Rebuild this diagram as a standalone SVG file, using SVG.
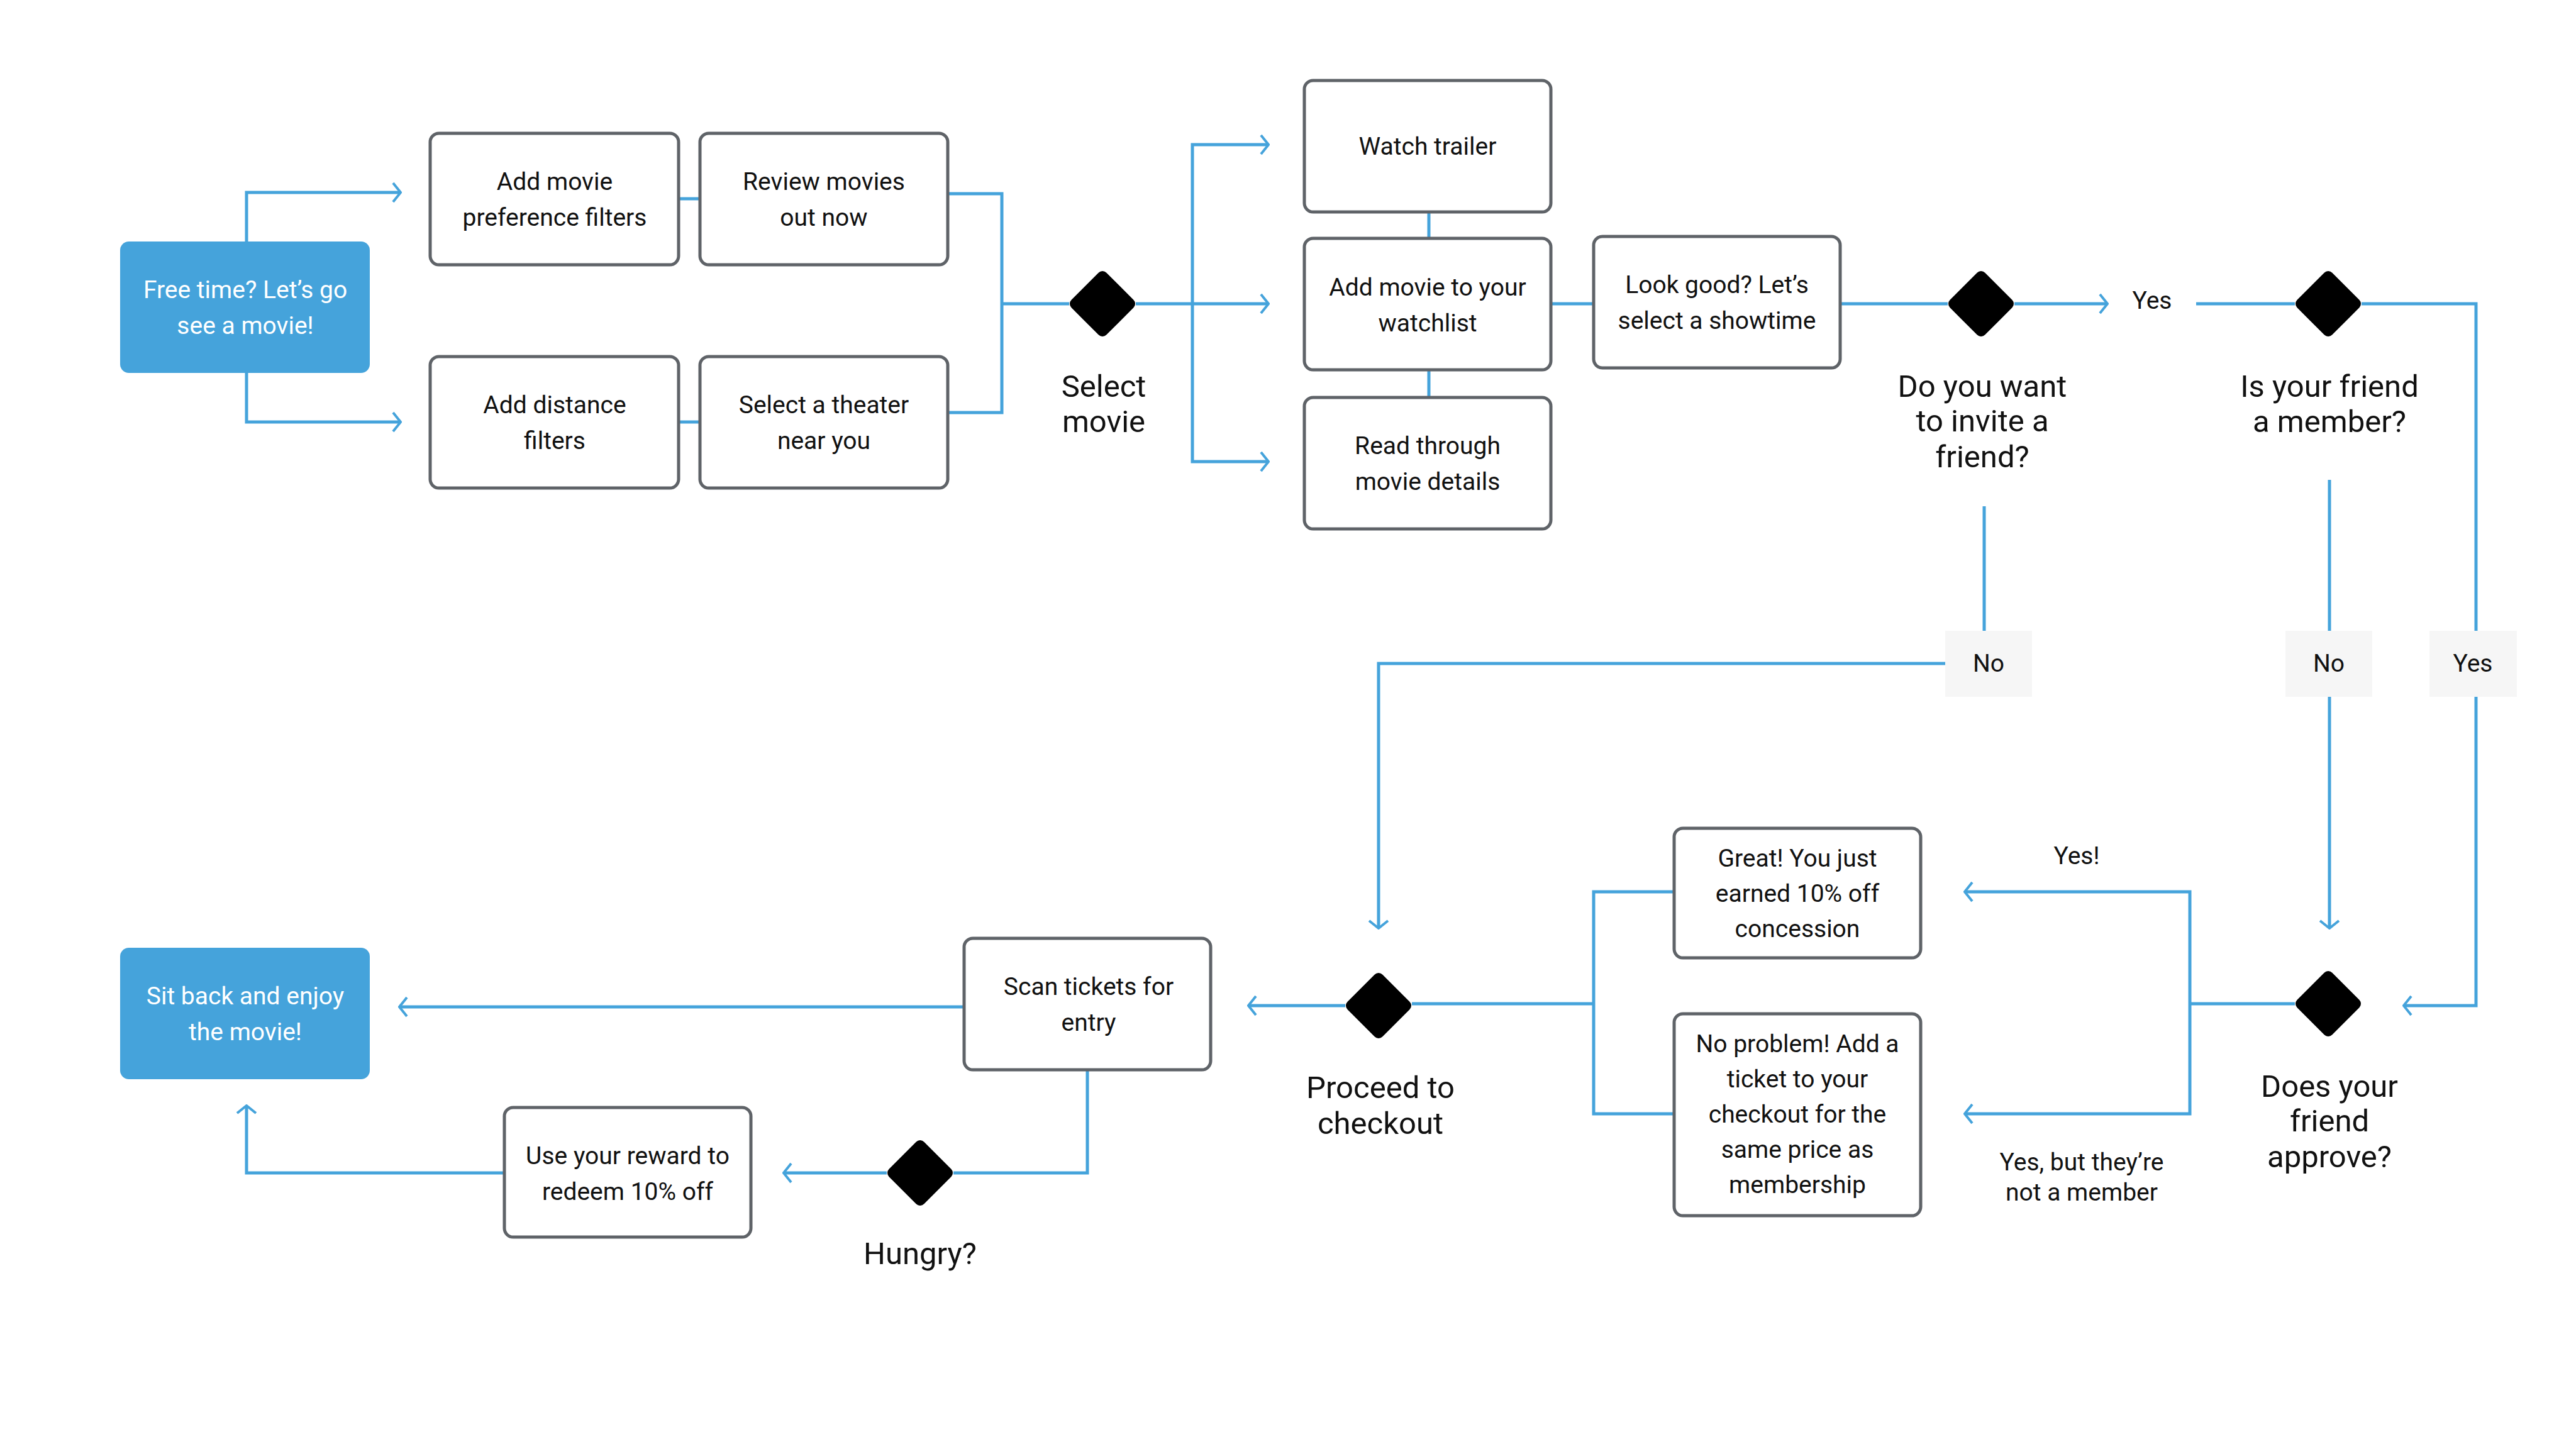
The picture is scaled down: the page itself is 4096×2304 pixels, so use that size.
<svg xmlns="http://www.w3.org/2000/svg" width="4096" height="2304" viewBox="0 0 4096 2304">
<style>
.box{fill:#fff;stroke:#5f6368;stroke-width:5}
.start{fill:#45A3DB}
.t{font-family:Roboto,"Liberation Sans",sans-serif;font-size:39px;fill:#111;text-anchor:middle}
.w{fill:#fff}
.d{font-family:Roboto,"Liberation Sans",sans-serif;font-size:49px;fill:#111;text-anchor:middle}
.c{fill:none;stroke:#45A3DB;stroke-width:5}
.a{marker-end:url(#ar)}
.dia{fill:#000;stroke:#000;stroke-width:18;stroke-linejoin:round}
.lab{fill:#f6f6f6}
</style>
<defs>
<marker id="ar" viewBox="0 0 16 34" refX="14" refY="17" markerWidth="16" markerHeight="34" markerUnits="userSpaceOnUse" orient="auto">
<path d="M2,2 L14,17 L2,32" fill="none" stroke="#45A3DB" stroke-width="4"/>
</marker>
</defs>
<rect width="4096" height="2304" fill="#fff"/>
<g id="connectors">
<path class="c a" d="M392,384 V306 H637"/>
<path class="c a" d="M392,593 V671 H637"/>
<path class="c" d="M1079,316 H1113"/>
<path class="c" d="M1079,671 H1113"/>
<path class="c" d="M1507,308 H1593 V656 H1507"/>
<path class="c" d="M1593,483 H1700"/>
<path class="c" d="M1806,483 H1896"/>
<path class="c a" d="M1896,483 V230 H2017"/>
<path class="c a" d="M1896,483 H2017"/>
<path class="c a" d="M1896,483 V734 H2017"/>
<path class="c" d="M2272,337 V379"/>
<path class="c" d="M2272,588 V632"/>
<path class="c" d="M2466,483 H2534"/>
<path class="c" d="M2926,483 H3097"/>
<path class="c a" d="M3203,483 H3351"/>
<path class="c" d="M3492,483 H3649"/>
<path class="c" d="M3755,483 H3937 V1003"/>
<path class="c a" d="M3937,1108 V1599 H3822"/>
<path class="c" d="M3155,805 V1003"/>
<path class="c a" d="M3093,1055 H2192 V1476"/>
<path class="c" d="M3704,763 V1003"/>
<path class="c a" d="M3704,1108 V1476"/>
<path class="c" d="M3649,1596 H3482"/>
<path class="c a" d="M3482,1596 V1418 H3124"/>
<path class="c a" d="M3482,1596 V1771 H3124"/>
<path class="c" d="M2662,1418 H2534 V1771 H2662"/>
<path class="c" d="M2534,1596 H2245"/>
<path class="c a" d="M2139,1599 H1985"/>
<path class="c a" d="M1533,1601 H635"/>
<path class="c" d="M1729,1701 V1865 H1516"/>
<path class="c a" d="M1410,1865 H1246"/>
<path class="c a" d="M802,1865 H392 V1758"/>
</g>
<g id="start"><rect class="start" x="191" y="384" width="397" height="209" rx="14"/><text class="t w" x="390" y="474">Free time? Let’s go</text><text class="t w" x="390" y="531">see a movie!</text></g>
<g id="pref"><rect class="box" x="684" y="212" width="395" height="209" rx="14"/><text class="t" x="882" y="302">Add movie</text><text class="t" x="882" y="359">preference filters</text></g>
<g id="review"><rect class="box" x="1113" y="212" width="394" height="209" rx="14"/><text class="t" x="1310" y="302">Review movies</text><text class="t" x="1310" y="359">out now</text></g>
<g id="distance"><rect class="box" x="684" y="567" width="395" height="209" rx="14"/><text class="t" x="882" y="657">Add distance</text><text class="t" x="882" y="714">filters</text></g>
<g id="theater"><rect class="box" x="1113" y="567" width="394" height="209" rx="14"/><text class="t" x="1310" y="657">Select a theater</text><text class="t" x="1310" y="714">near you</text></g>
<g id="selectmovie"><polygon class="dia" points="1753,440 1796,483 1753,526 1710,483"/><text class="d" x="1755" y="631">Select</text><text class="d" x="1755" y="687">movie</text></g>
<g id="trailer"><rect class="box" x="2074" y="128" width="392" height="209" rx="14"/><text class="t" x="2270" y="246">Watch trailer</text></g>
<g id="watchlist"><rect class="box" x="2074" y="379" width="392" height="209" rx="14"/><text class="t" x="2270" y="470">Add movie to your</text><text class="t" x="2270" y="527">watchlist</text></g>
<g id="details"><rect class="box" x="2074" y="632" width="392" height="209" rx="14"/><text class="t" x="2270" y="722">Read through</text><text class="t" x="2270" y="779">movie details</text></g>
<g id="showtime"><rect class="box" x="2534" y="376" width="392" height="209" rx="14"/><text class="t" x="2730" y="466">Look good? Let’s</text><text class="t" x="2730" y="523">select a showtime</text></g>
<g id="invite"><polygon class="dia" points="3150,440 3193,483 3150,526 3107,483"/><text class="d" x="3152" y="631">Do you want</text><text class="d" x="3152" y="686">to invite a</text><text class="d" x="3152" y="743">friend?</text></g>
<g id="yes1"><text class="t" x="3422" y="491">Yes</text></g>
<g id="member"><polygon class="dia" points="3702,440 3745,483 3702,526 3659,483"/><text class="d" x="3704" y="631">Is your friend</text><text class="d" x="3704" y="687">a member?</text></g>
<g id="no1"><rect class="lab" x="3093" y="1003" width="138" height="105"/><text class="t" x="3162" y="1068">No</text></g>
<g id="no2"><rect class="lab" x="3634" y="1003" width="138" height="105"/><text class="t" x="3703" y="1068">No</text></g>
<g id="yes2"><rect class="lab" x="3863" y="1003" width="139" height="105"/><text class="t" x="3932" y="1068">Yes</text></g>
<g id="approve"><polygon class="dia" points="3702,1553 3745,1596 3702,1639 3659,1596"/><text class="d" x="3704" y="1744">Does your</text><text class="d" x="3704" y="1799">friend</text><text class="d" x="3704" y="1856">approve?</text></g>
<g id="yes3"><text class="t" x="3302" y="1374">Yes!</text></g>
<g id="yes4"><text class="t" x="3310" y="1861">Yes, but they’re</text><text class="t" x="3310" y="1909">not a member</text></g>
<g id="great"><rect class="box" x="2662" y="1317" width="392" height="206" rx="14"/><text class="t" x="2858" y="1378">Great! You just</text><text class="t" x="2858" y="1434">earned 10% off</text><text class="t" x="2858" y="1490">concession</text></g>
<g id="noproblem"><rect class="box" x="2662" y="1612" width="392" height="321" rx="14"/><text class="t" x="2858" y="1673">No problem! Add a</text><text class="t" x="2858" y="1729">ticket to your</text><text class="t" x="2858" y="1785">checkout for the</text><text class="t" x="2858" y="1841">same price as</text><text class="t" x="2858" y="1897">membership</text></g>
<g id="checkout"><polygon class="dia" points="2192,1556 2235,1599 2192,1642 2149,1599"/><text class="d" x="2195" y="1746">Proceed to</text><text class="d" x="2195" y="1803">checkout</text></g>
<g id="scan"><rect class="box" x="1533" y="1492" width="392" height="209" rx="14"/><text class="t" x="1731" y="1582">Scan tickets for</text><text class="t" x="1731" y="1639">entry</text></g>
<g id="end"><rect class="start" x="191" y="1507" width="397" height="209" rx="14"/><text class="t w" x="390" y="1597">Sit back and enjoy</text><text class="t w" x="390" y="1654">the movie!</text></g>
<g id="hungry"><polygon class="dia" points="1463,1822 1506,1865 1463,1908 1420,1865"/><text class="d" x="1463" y="2010">Hungry?</text></g>
<g id="reward"><rect class="box" x="802" y="1761" width="392" height="206" rx="14"/><text class="t" x="998" y="1851">Use your reward to</text><text class="t" x="998" y="1908">redeem 10% off</text></g>
</svg>
